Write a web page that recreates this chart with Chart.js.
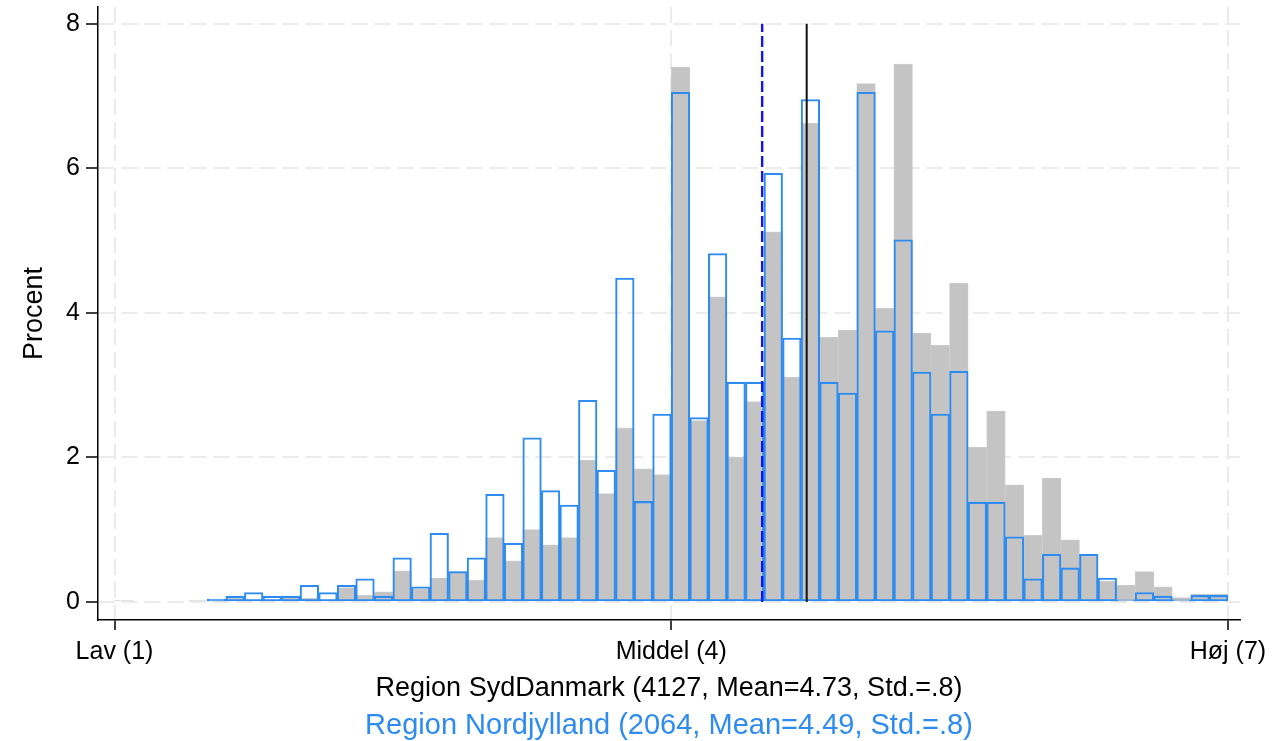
<!DOCTYPE html>
<html>
<head>
<meta charset="utf-8">
<script src="https://cdn.jsdelivr.net/npm/chart.js@4.4.1/dist/chart.umd.min.js"></script>
<style>
  html, body { margin: 0; padding: 0; background: #fff; }
  #wrap { width: 1281px; height: 741px; }
</style>
</head>
<body>
<div id="wrap"><canvas id="hist"></canvas></div>
<script>
// 60 bins of width 0.1 between 1 and 7
const binStart = 1.0;
const binWidth = 0.1;

// Region Nordjylland (blue outline), percent per bin
const nordVals = [
  null, null, null, null, null, 0.04, 0.08, 0.13, 0.08, 0.08,
  0.23, 0.13, 0.23, 0.32, 0.08, 0.61, 0.21, 0.95, 0.42, 0.61,
  1.49, 0.81, 2.27, 1.54, 1.34, 2.79, 1.82, 4.48, 1.39, 2.60,
  7.05, 2.55, 4.82, 3.04, 3.04, 5.93, 3.65, 6.95, 3.04, 2.89,
  7.05, 3.75, 5.01, 3.18, 2.60, 3.19, 1.38, 1.38, 0.90, 0.32,
  0.66, 0.47, 0.66, 0.33, 0.03, 0.13, 0.08, 0.03, 0.09, 0.09
];

// Region SydDanmark (grey fill), percent per bin
const sydVals = [
  0.02, null, null, null, 0.02, 0.01, 0.05, 0.03, 0.03, 0.08,
  0.05, 0.03, 0.20, 0.09, 0.14, 0.43, 0.18, 0.33, 0.42, 0.30,
  0.89, 0.57, 1.00, 0.79, 0.89, 1.96, 1.50, 2.41, 1.84, 1.76,
  7.40, 2.51, 4.22, 2.00, 2.77, 5.12, 3.11, 6.62, 3.66, 3.76,
  7.17, 4.06, 7.44, 3.72, 3.55, 4.41, 2.14, 2.64, 1.62, 0.92,
  1.71, 0.86, 0.64, 0.29, 0.23, 0.42, 0.21, 0.06, 0.11, 0.11
];

const xTickValues = [1, 4, 7];
const xTickLabels = ['Lav (1)', 'Middel (4)', 'Høj (7)'];
const yTickValues = [0, 2, 4, 6, 8];

const meanSyd = 4.73;
const meanNord = 4.49;

const sydTitle = 'Region SydDanmark (4127, Mean=4.73, Std.=.8)';
const nordTitle = 'Region Nordjylland (2064, Mean=4.49, Std.=.8)';

const FONT = '"Liberation Sans", Arial, sans-serif';
const BLUE = '#2e8cf0';

const toPoints = vals => vals.map((v, i) => ({ x: binStart + binWidth * (i + 0.5), y: v }));

const ctx = document.getElementById('hist').getContext('2d');
new Chart(ctx, {
    type: 'bar',
    data: {
        datasets: [
            {
                type: 'line',
                data: [{ x: meanSyd, y: 0 }, { x: meanSyd, y: 8 }],
                borderColor: '#111111',
                borderWidth: 2,
                pointRadius: 0,
                order: 0
            },
            {
                type: 'line',
                data: [{ x: meanNord, y: 0 }, { x: meanNord, y: 8 }],
                borderColor: '#1414f0',
                borderWidth: 2.4,
                borderDash: [11, 4],
                pointRadius: 0,
                order: 0
            },
            {
                label: 'Region Nordjylland',
                data: toPoints(nordVals),
                backgroundColor: 'rgba(0,0,0,0)',
                borderColor: BLUE,
                borderWidth: 1.4,
                borderSkipped: false,
                grouped: false,
                barPercentage: 1,
                categoryPercentage: 1,
                order: 1
            },
            {
                label: 'Region SydDanmark',
                data: toPoints(sydVals),
                backgroundColor: '#c4c4c4',
                borderColor: '#cdcdcd',
                borderWidth: 0.8,
                borderSkipped: false,
                grouped: false,
                barPercentage: 1,
                categoryPercentage: 1,
                order: 2
            }
        ]
    },
    options: {
        responsive: true,
        maintainAspectRatio: false,
        animation: false,
        layout: { padding: { left: 0, right: 41, top: 7, bottom: -2.5 } },
        plugins: {
            legend: { display: false },
            tooltip: { enabled: false },
            title: {
                display: true,
                position: 'bottom',
                fullSize: false,
                text: nordTitle,
                color: BLUE,
                font: { family: FONT, size: 29, weight: 'normal' },
                padding: 0
            }
        },
        scales: {
            x: {
                type: 'linear',
                min: 0.911,
                max: 7.065,
                offset: false,
                afterBuildTicks: s => { s.ticks = xTickValues.map(v => ({ value: v })); },
                afterFit: s => { s.height = 88.7; },
                ticks: {
                    autoSkip: false,
                    maxRotation: 0,
                    color: '#000',
                    padding: 7,
                    font: { family: FONT, size: 25 },
                    callback: v => xTickLabels[xTickValues.indexOf(v)]
                },
                grid: {
                    offset: false,
                    color: '#ebebeb',
                    lineWidth: 2,
                    tickLength: 10,
                    tickColor: '#000',
                    tickWidth: 1.5
                },
                border: { display: true, color: '#000', width: 1.5, dash: [16, 7] },
                title: {
                    display: true,
                    text: sydTitle,
                    color: '#000',
                    font: { family: FONT, size: 27 },
                    padding: { top: 0, bottom: 3.5 }
                }
            },
            y: {
                type: 'linear',
                min: -0.25,
                max: 8.23,
                afterBuildTicks: s => { s.ticks = yTickValues.map(v => ({ value: v })); },
                afterFit: s => { s.width = 98; s.paddingTop = 0; s.paddingBottom = 0; },
                ticks: {
                    color: '#000',
                    padding: 6,
                    font: { family: FONT, size: 25 }
                },
                grid: {
                    color: '#ebebeb',
                    lineWidth: 2,
                    tickLength: 12,
                    tickColor: '#000',
                    tickWidth: 1.5
                },
                border: { display: true, color: '#000', width: 1.5, dash: [16, 7] },
                title: {
                    display: true,
                    text: 'Procent',
                    color: '#000',
                    font: { family: FONT, size: 27 },
                    padding: { top: 18, bottom: 0 }
                }
            }
        }
    }
});
</script>
</body>
</html>
